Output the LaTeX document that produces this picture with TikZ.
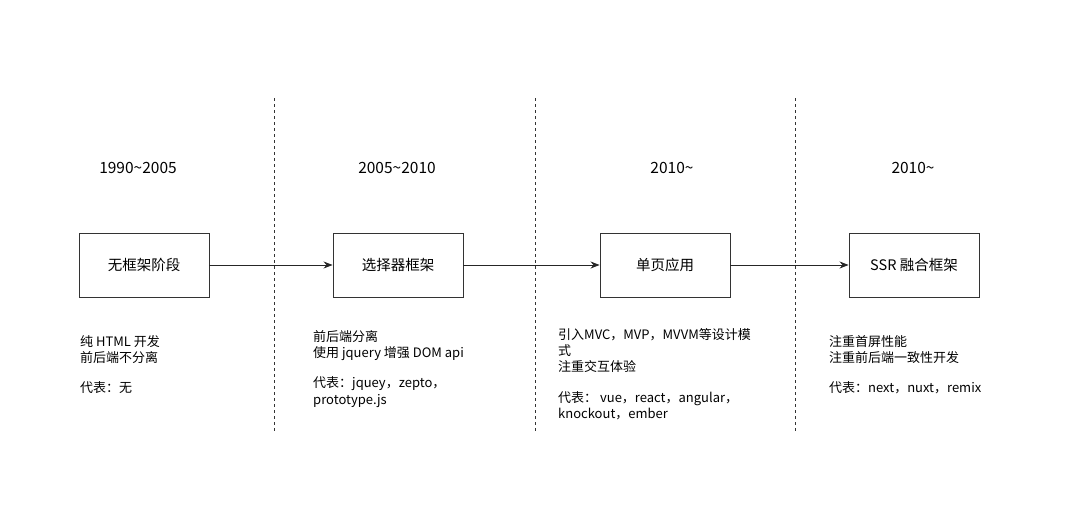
\documentclass[tikz,border=0pt]{standalone}
\usepackage{fontspec}
\setmainfont{Noto Sans CJK SC}
\usetikzlibrary{arrows.meta}
\begin{document}
\begin{tikzpicture}[x=1pt,y=-1pt,
  stage/.style={draw=black!80,line width=0.9pt,minimum width=130pt,minimum height=64pt,inner sep=0pt,font=\fontsize{14.5pt}{17pt}\selectfont},
  year/.style={font=\fontsize{15.5pt}{18pt}\selectfont,inner sep=0pt},
  note/.style={anchor=north west,align=left,inner sep=0pt,font=\fontsize{13pt}{16.3pt}\selectfont},
  divider/.style={dashed,black!80,line width=0.8pt,dash pattern=on 3pt off 3pt},
  flow/.style={-{Stealth[length=9pt,width=7pt]},line width=0.9pt,black!85}]
\useasboundingbox (0,0) rectangle (1080,525);
\coordinate (d1t) at (274,98); \coordinate (d1b) at (274,433);
\coordinate (d2t) at (535,98); \coordinate (d2b) at (535,433);
\coordinate (d3t) at (795,98); \coordinate (d3b) at (795,433);
\draw[divider] (d1t) -- (d1b);
\draw[divider] (d2t) -- (d2b);
\draw[divider] (d3t) -- (d3b);
\node[year] (y1) at (138,168) {1990\textasciitilde2005};
\node[year] (y2) at (397,168) {2005\textasciitilde2010};
\node[year] (y3) at (672,168) {2010\textasciitilde};
\node[year] (y4) at (913,168) {2010\textasciitilde};
\node[stage] (s1) at (144,265) {无框架阶段};
\node[stage] (s2) at (398,265) {选择器框架};
\node[stage] (s3) at (665,265) {单页应用};
\node[stage] (s4) at (914,265) {SSR 融合框架};
\draw[flow] (s1) -- (s2);
\draw[flow] (s2) -- (s3);
\draw[flow] (s3) -- (s4);
\node[note] (n1) at (80,335) {纯 HTML 开发\\前后端不分离\\[14pt]代表：无};
\node[note] (n2) at (313,330) {前后端分离\\使用 jquery 增强 DOM api\\[14pt]代表：jquey，zepto，\\prototype.js};
\node[note] (n3) at (558,328) {引入MVC，MVP，MVVM等设计模\\式\\注重交互体验\\[14pt]代表： vue，react，angular，\\knockout，ember};
\node[note] (n4) at (829,335) {注重首屏性能\\注重前后端一致性开发\\[14pt]代表：next，nuxt，remix};
\end{tikzpicture}
\end{document}
